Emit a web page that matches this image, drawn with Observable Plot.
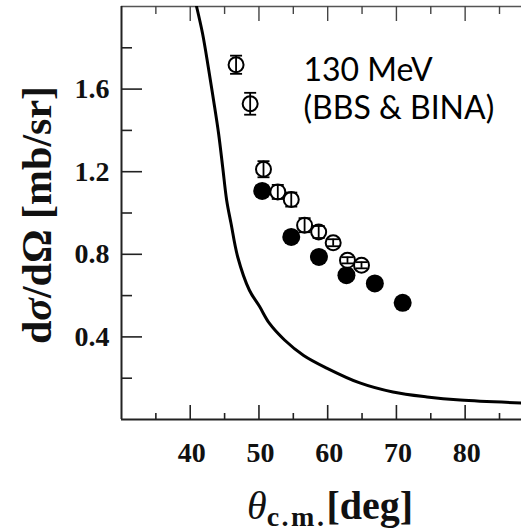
<!DOCTYPE html>
<html><head><meta charset="utf-8">
<script src="https://cdn.jsdelivr.net/npm/d3@7"></script>
<script src="https://cdn.jsdelivr.net/npm/@observablehq/plot@0.6"></script>
<style>html,body{margin:0;padding:0;background:#fff;} svg{display:block;}</style>
</head><body><div id="chart"></div>
<script>
// Open circles (with error bars)
const openAngle = [46.67, 48.72, 50.66, 52.74, 54.70, 56.64, 58.69, 60.80, 62.88, 64.92];
const openValue = [1.718, 1.529, 1.212, 1.102, 1.065, 0.941, 0.908, 0.856, 0.771, 0.747];
const openError = [0.044, 0.053, 0.039, 0.034, 0.034, 0.034, 0.029, 0.017, 0.015, 0.015];
// Filled circles
const filledAngle = [50.47, 54.70, 58.73, 62.73, 66.86, 70.91];
const filledValue = [1.107, 0.884, 0.787, 0.699, 0.659, 0.565];
// Theory curve
const curveAngle = [40.92, 41.80, 42.63, 43.40, 44.13, 44.72, 45.30, 45.94, 46.91, 48.61, 50.07, 51.53, 53.72, 56.5, 59.85, 64.67, 69.49, 74.45, 79.27, 88.18];
const curveValue = [2.0, 1.868, 1.706, 1.545, 1.384, 1.223, 1.062, 0.949, 0.787, 0.626, 0.548, 0.465, 0.385, 0.31, 0.249, 0.177, 0.133, 0.109, 0.094, 0.080];
// Ticks
const xTickValues = [40, 50, 60, 70, 80];
const xMinorTicks = [35, 45, 55, 65, 75, 85];
const yTickValues = [0.4, 0.8, 1.2, 1.6];
const yMinorTicks = [0.2, 0.6, 1.0, 1.4, 1.8];
const annotationLines = ["130 MeV", "(BBS & BINA)"];

const openData = openAngle.map((x, i) => ({x, y: openValue[i], e: openError[i]}));
const filledData = filledAngle.map((x, i) => ({x, y: filledValue[i]}));
const curveData = curveAngle.map((x, i) => ({x, y: curveValue[i]}));

const W = 521, H = 531, mL = 121, mR = 0, mT = 6, mB = 112;
const fw = W - mL - mR, fh = H - mT - mB;
const capSymbol = {draw(ctx, size) { const r = Math.sqrt(size / Math.PI); ctx.moveTo(-r, 0); ctx.lineTo(r, 0); }};
const serif = "'Liberation Serif', 'Times New Roman', serif";

const chart = Plot.plot({
  width: W, height: H,
  marginLeft: mL, marginRight: mR, marginTop: mT, marginBottom: mB,
  x: {domain: [30, 88.2], axis: null},
  y: {domain: [0, 2], axis: null},
  marks: [
    // frame lines
    Plot.ruleY([2], {stroke: "#555", strokeWidth: 1.5}),
    Plot.ruleX([30], {stroke: "#222", strokeWidth: 2}),
    Plot.ruleY([0], {stroke: "#222", strokeWidth: 2}),
    // inward ticks
    Plot.ruleY(yTickValues, {insetRight: fw - 21, stroke: "#222", strokeWidth: 1.6}),
    Plot.ruleY(yMinorTicks, {insetRight: fw - 11, stroke: "#222", strokeWidth: 1.6}),
    Plot.ruleX(xTickValues, {insetTop: fh - 14, stroke: "#222", strokeWidth: 1.6}),
    Plot.ruleX(xMinorTicks, {insetTop: fh - 6, stroke: "#222", strokeWidth: 1.6}),
    Plot.ruleX(xTickValues, {insetBottom: fh - 15, stroke: "#444", strokeWidth: 1.4}),
    Plot.ruleX(xMinorTicks, {insetBottom: fh - 8, stroke: "#444", strokeWidth: 1.4}),
    // tick labels
    Plot.text(yTickValues, {y: d => d, frameAnchor: "left", dx: -12, textAnchor: "end", text: d => d.toFixed(1),
      fontFamily: serif, fontWeight: "bold", fontSize: 28, letterSpacing: 4, fill: "#111"}),
    Plot.text(xTickValues, {x: d => d, frameAnchor: "bottom", dy: 42, dx: 1.5, text: d => String(d),
      fontFamily: serif, fontWeight: "bold", fontSize: 28, letterSpacing: 3, fill: "#111"}),
    // theory curve
    Plot.line(curveData, {x: "x", y: "y", curve: "catmull-rom", stroke: "black", strokeWidth: 3, clip: true}),
    // filled points
    Plot.dot(filledData, {x: "x", y: "y", r: 9, fill: "black", stroke: "none"}),
    // open points
    Plot.dot(openData, {x: "x", y: "y", r: 7.5, fill: "white", stroke: "black", strokeWidth: 2}),
    Plot.ruleX(openData, {x: "x", y1: d => d.y - d.e, y2: d => d.y + d.e, stroke: "black", strokeWidth: 1.8}),
    Plot.dot(openData, {x: "x", y: d => d.y - d.e, symbol: capSymbol, r: 6, stroke: "black", strokeWidth: 1.8}),
    Plot.dot(openData, {x: "x", y: d => d.y + d.e, symbol: capSymbol, r: 6, stroke: "black", strokeWidth: 1.8}),
    // annotation
    Plot.text([annotationLines.join("\n")], {frameAnchor: "top-left", dx: 182, dy: 47, lineAnchor: "top", textAnchor: "start",
      text: d => d, lineHeight: 1.2, fontFamily: "Lato, 'Open Sans', sans-serif", fontSize: 32, letterSpacing: 0.5, fill: "#000"})
  ]
});
document.getElementById("chart").appendChild(chart);

const svg = d3.select(chart.tagName.toLowerCase() === "svg" ? chart : chart.querySelector("svg"));
// y axis title
const yt = svg.append("text")
  .attr("transform", "translate(51,215) rotate(-90)")
  .attr("text-anchor", "middle")
  .attr("font-family", serif).attr("font-weight", "bold").attr("font-size", 42).attr("fill", "#111");
yt.append("tspan").text("d");
yt.append("tspan").attr("font-style", "italic").text("σ");
yt.append("tspan").text("/dΩ [mb/sr]");
// x axis title
const xt = svg.append("text")
  .attr("x", 247).attr("y", 519)
  .attr("text-anchor", "start")
  .attr("font-family", serif).attr("font-size", 40).attr("fill", "#111");
xt.append("tspan").attr("font-style", "italic").text("θ");
xt.append("tspan").attr("font-weight", "bold").attr("font-size", 28).attr("dy", 7).attr("letter-spacing", 2.5).text("c.m.");
xt.append("tspan").attr("font-weight", "bold").attr("dy", -7).text("[deg]");
</script>
</body></html>
